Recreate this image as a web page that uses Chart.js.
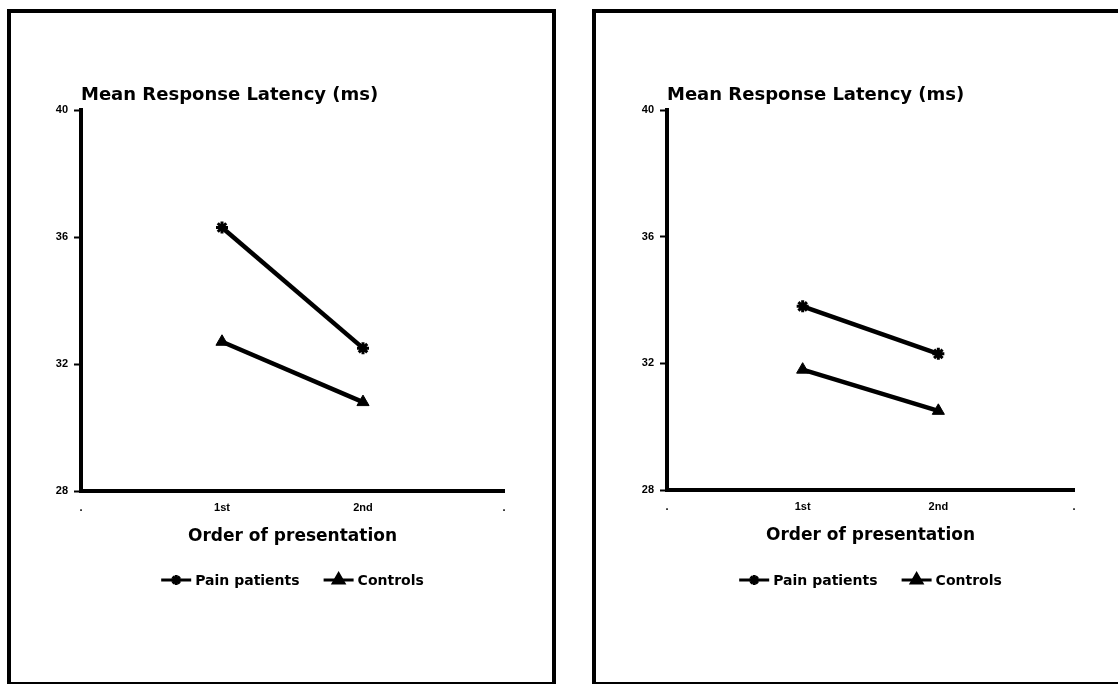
<!DOCTYPE html>
<html>
<head>
<meta charset="utf-8">
<title>Mean Response Latency</title>
<script src="https://cdn.jsdelivr.net/npm/chart.js@4.4.0/dist/chart.umd.min.js"></script>
<style>
    html, body { margin: 0; padding: 0; background: #fff; overflow: hidden; }
    body { width: 1118px; height: 684px; position: relative; }
    .panel { position: absolute; border: 4px solid #000; box-sizing: border-box; }
    #panelLeft { left: 7px; top: 9px; width: 549px; height: 677px; }
    #panelRight { left: 592px; top: 9px; width: 560px; height: 677px; }
    .wrap { position: absolute; top: 0; height: 684px; }
    #wrapLeft { left: 0; width: 560px; }
    #wrapRight { left: 586px; width: 532px; }
</style>
</head>
<body>
<div class="panel" id="panelLeft"></div>
<div class="panel" id="panelRight"></div>
<div class="wrap" id="wrapLeft"><canvas id="chartLeft"></canvas></div>
<div class="wrap" id="wrapRight"><canvas id="chartRight"></canvas></div>

<script>
// --- data ---
const orderLabels = [".", "1st", "2nd", "."];
const seriesNames = ["Pain patients", "Controls"];
const yTicks = [28, 32, 36, 40];
const yTitle = "Mean Response Latency (ms)";
const xTitle = "Order of presentation";

const painLeft = [null, 36.3, 32.5, null];
const controlsLeft = [null, 32.7, 30.8, null];
const painRight = [null, 33.8, 32.3, null];
const controlsRight = [null, 31.8, 30.5, null];

// title above the axis + legend under the x title
const panelText = {
    id: "panelText",
    afterDraw(chart) {
        const ctx = chart.ctx;
        const area = chart.chartArea;
        ctx.save();
        ctx.fillStyle = "#000";
        ctx.font = "bold 18px 'DejaVu Sans'";
        ctx.textAlign = "left";
        ctx.textBaseline = "middle";
        ctx.fillText(yTitle, area.left, area.top - 15);

        // legend
        ctx.font = "bold 14px 'DejaVu Sans'";
        const symW = 30, textGap = 4, itemGap = 24;
        const items = chart.data.datasets.map(ds => ({ ds, w: ctx.measureText(ds.label).width }));
        const total = items.reduce((s, it) => s + symW + textGap + it.w, 0) + itemGap * (items.length - 1);
        let x = (area.left + area.right) / 2 - total / 2;
        const y = 580;
        items.forEach(it => {
            ctx.strokeStyle = "#000";
            ctx.lineWidth = 3;
            ctx.beginPath();
            ctx.moveTo(x, y);
            ctx.lineTo(x + symW, y);
            ctx.stroke();
            ctx.fillStyle = "#000";
            Chart.helpers.drawPoint(ctx, {
                pointStyle: it.ds.pointStyle,
                radius: it.ds.pointRadius - 1,
                rotation: 0,
                borderWidth: it.ds.pointBorderWidth
            }, x + symW / 2, y);
            ctx.fillStyle = "#000";
            ctx.textAlign = "left";
            ctx.fillText(it.ds.label, x + symW + textGap, y + 1);
            x += symW + textGap + it.w + itemGap;
        });
        ctx.restore();
    }
};

function makeChart(canvasId, pain, controls, pad) {
    return new Chart(document.getElementById(canvasId), {
        type: "line",
        data: {
            labels: orderLabels,
            datasets: [{
                label: seriesNames[0],
                data: pain,
                borderColor: "#000",
                backgroundColor: "#000",
                borderWidth: 4.5,
                pointStyle: "star",
                pointRadius: 6,
                pointBorderWidth: 3,
                pointBorderColor: "#000",
                pointBackgroundColor: "#000"
            }, {
                label: seriesNames[1],
                data: controls,
                borderColor: "#000",
                backgroundColor: "#000",
                borderWidth: 4.5,
                pointStyle: "triangle",
                pointRadius: 7,
                pointBorderWidth: 1,
                pointBorderColor: "#000",
                pointBackgroundColor: "#000"
            }]
        },
        options: {
            responsive: true,
            maintainAspectRatio: false,
            animation: false,
            layout: { padding: pad },
            elements: { line: { tension: 0 } },
            plugins: {
                legend: { display: false },
                tooltip: { enabled: false }
            },
            scales: {
                x: {
                    type: "category",
                    offset: false,
                    afterFit: s => { s.height = 60; },
                    grid: { display: false, drawTicks: false },
                    border: { display: true, color: "#000", width: 4 },
                    ticks: {
                        padding: 10,
                        color: "#000",
                        maxRotation: 0,
                        autoSkip: false,
                        font: { family: "'Liberation Sans'", size: 11, weight: "bold" }
                    },
                    title: {
                        display: true,
                        text: xTitle,
                        color: "#000",
                        padding: { top: 4, bottom: 4 },
                        font: { family: "'DejaVu Sans'", size: 17, weight: "bold" }
                    }
                },
                y: {
                    min: 28,
                    max: 40,
                    afterFit: s => { s.width = 30; },
                    afterBuildTicks: s => { s.ticks = yTicks.map(v => ({ value: v })); },
                    grid: {
                        display: true,
                        drawOnChartArea: false,
                        drawTicks: true,
                        tickLength: 7,
                        tickWidth: 2,
                        tickColor: "#000"
                    },
                    border: { display: true, color: "#000", width: 4 },
                    ticks: {
                        padding: 6,
                        color: "#000",
                        font: { family: "'Liberation Sans'", size: 11, weight: "bold" }
                    }
                }
            }
        },
        plugins: [panelText]
    });
}

makeChart("chartLeft", painLeft, controlsLeft, { left: 51, top: 110, right: 56, bottom: 133 });
makeChart("chartRight", painRight, controlsRight, { left: 51, top: 110, right: 44, bottom: 134 });
</script>
</body>
</html>
